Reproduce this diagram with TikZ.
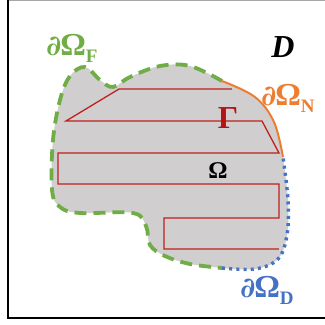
\documentclass[tikz,border=0pt]{standalone}
\usepackage{fontspec}
\setmainfont{Liberation Serif}
\newfontfamily\partfont{DejaVu Serif}
\usepackage{tikz}
\usetikzlibrary{positioning}
\definecolor{freeclr}{RGB}{112,173,71}
\definecolor{neumclr}{RGB}{237,125,49}
\definecolor{dirclr}{RGB}{68,114,196}
\definecolor{pathclr}{RGB}{192,32,32}
\definecolor{gamclr}{RGB}{180,20,20}
\definecolor{domclr}{RGB}{208,206,206}
\newcommand{\bsub}[1]{\raisebox{-0.22em}{\fontsize{19}{19}\selectfont #1}}
\newcommand{\bdry}[1]{{\partfont\bfseries\fontsize{28}{28}\selectfont ∂}\kern-1pt Ω\bsub{#1}}
\tikzset{
  freebd/.style={freeclr,line width=3.8pt,dash pattern=on 12pt off 7pt},
  neumbd/.style={neumclr,line width=2pt},
  dirbd/.style={dirclr,line width=3.4pt,dash pattern=on 3pt off 4.2pt},
  lbl/.style={font=\fontsize{32}{32}\selectfont\bfseries,inner sep=0pt},
  toolpath/.style={pathclr,line width=1.3pt,line join=miter},
}
\begin{document}
\begin{tikzpicture}[x=1pt,y=-1pt]
\useasboundingbox (0,0) rectangle (325,325);
% frame
\draw[gray!70,line width=1pt] (8,0.5) -- (325,0.5);
\draw[black,line width=2.6pt] (8,0) -- (8,318) -- (325,318);

% domain
\fill[domclr] plot[smooth,tension=.6] coordinates{(222,81) (190,66) (160,66) (130,77) (113,87) (100,80) (85,67) (70,76) (60,100) (53,140) (52,190) (60,207) (80,213) (133,213) (146,226) (150,245) (165,256) (190,264) (222,268)}
  -- plot[smooth,tension=.6] coordinates{(222,268) (255,269) (278,259) (287,235) (288,200) (283,157)}
  -- plot[smooth,tension=.6] coordinates{(283,157) (274,122) (255,97) (222,81)} -- cycle;

% boundary parts
\draw[freebd] plot[smooth,tension=.6] coordinates{(222,81) (190,66) (160,66) (130,77) (113,87) (100,80) (85,67) (70,76) (60,100) (53,140) (52,190) (60,207) (80,213) (133,213) (146,226) (150,245) (165,256) (190,264) (222,268)};
\draw[dirbd] plot[smooth,tension=.6] coordinates{(222,268) (255,269) (278,259) (287,235) (288,200) (283,157)};
\draw[neumbd] plot[smooth,tension=.6] coordinates{(283,157) (274,122) (255,97) (222,81)};

% printing path
\draw[toolpath] (232,89) -- (119,89) -- (66,121) -- (262,121) -- (279,153) -- (58,153)
  -- (58,184) -- (279,184) -- (279,218) -- (164,218) -- (164,249) -- (279,249);

% labels
\node[lbl,freeclr] (lF) at (72,48) {\bdry{F}};
\node[lbl] (lD) at (283,47) {\itshape D};
\node[lbl,neumclr] (lN) at (288,98) {\bdry{N}};
\node[lbl,gamclr] (lG) at (228,118) {Γ};
\node[lbl,font=\fontsize{24}{24}\selectfont\bfseries] (lO) at (218,171) {Ω};
\node[lbl,dirclr] (lDir) at (267,290) {\bdry{D}};
\end{tikzpicture}
\end{document}
